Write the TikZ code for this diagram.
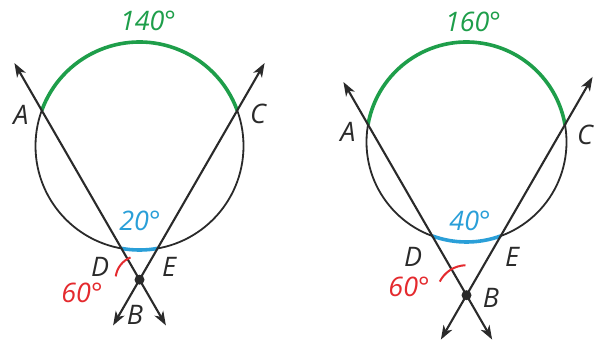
\documentclass[tikz,border=0pt]{standalone}
\usepackage{fontspec}
\setmainfont{Open Sans}
\usetikzlibrary{calc,arrows.meta}
\definecolor{arcgreen}{HTML}{1E9E4A}
\definecolor{arcblue}{HTML}{2A9FD8}
\definecolor{markred}{HTML}{E42A2E}
\definecolor{linegray}{HTML}{2A2A2A}
\tikzset{
  secant/.style={draw=linegray, line width=2.1bp, {Stealth[length=14bp,width=10bp,inset=4bp]}-{Stealth[length=14bp,width=10bp,inset=4bp]}},
  circ/.style={draw=linegray, line width=1.8bp},
  bigarc/.style={draw=arcgreen, line width=3.6bp},
  smallarc/.style={draw=arcblue, line width=3.6bp},
  redmark/.style={draw=markred, line width=2bp},
  lbl/.style={font=\fontsize{27}{32}\selectfont\itshape, text=linegray, inner sep=0pt},
  glbl/.style={lbl, text=arcgreen},
  blbl/.style={lbl, text=arcblue},
  rlbl/.style={lbl, text=markred},
  dot/.style={circle, fill=linegray, inner sep=0pt, minimum size=10bp}
}
\begin{document}
\begin{tikzpicture}[x=1bp,y=1bp]
\useasboundingbox (0,0) rectangle (596,341);
% ---------- left figure ----------
\coordinate (O1) at (139.5,195);
\coordinate (A1) at ($(O1)+(160:104)$);
\coordinate (C1) at ($(O1)+(20:104)$);
\coordinate (D1) at ($(O1)+(260:104)$);
\coordinate (E1) at ($(O1)+(280:104)$);
\coordinate (B1) at ($(O1)+(0,-133.7)$);
\coordinate (A1t) at ($(B1)!1.28!(A1)$);
\coordinate (A1b) at ($(B1)!-0.27!(A1)$);
\coordinate (C1t) at ($(B1)!1.28!(C1)$);
\coordinate (C1b) at ($(B1)!-0.27!(C1)$);
\draw[circ] (O1) circle[radius=104];
\draw[bigarc] (A1) arc[start angle=160, end angle=20, radius=104];
\draw[smallarc] (D1) arc[start angle=260, end angle=280, radius=104];
\draw[secant] (A1b) -- (A1t);
\draw[secant] (C1b) -- (C1t);
\draw[redmark] ($(B1)+(172:24)$) arc[start angle=172, end angle=112, radius=24];
\node[dot] (B1d) at (B1) {};
\node[glbl] (l140) at (148,320) {140°};
\node[lbl] (lA1) at (21,226) {A};
\node[lbl] (lC1) at (258,227) {C};
\node[blbl] (l20) at (140,120) {20°};
\node[lbl] (lD1) at (100,74) {D};
\node[lbl] (lE1) at (169,74) {E};
\node[rlbl] (l60a) at (82,48) {60°};
\node[lbl] (lB1) at (135,26) {B};
% ---------- right figure ----------
\coordinate (O2) at (466.5,199);
\coordinate (A2) at ($(O2)+(170:100)$);
\coordinate (C2) at ($(O2)+(10:100)$);
\coordinate (D2) at ($(O2)+(250:100)$);
\coordinate (E2) at ($(O2)+(290:100)$);
\coordinate (B2) at ($(O2)+(0,-153.2)$);
\coordinate (A2t) at ($(B2)!1.25!(A2)$);
\coordinate (A2b) at ($(B2)!-0.26!(A2)$);
\coordinate (C2t) at ($(B2)!1.28!(C2)$);
\coordinate (C2b) at ($(B2)!-0.26!(C2)$);
\draw[circ] (O2) circle[radius=100];
\draw[bigarc] (A2) arc[start angle=170, end angle=10, radius=100];
\draw[smallarc] (D2) arc[start angle=250, end angle=290, radius=100];
\draw[secant] (A2b) -- (A2t);
\draw[secant] (C2b) -- (C2t);
\draw[redmark] ($(B2)+(153:30)$) arc[start angle=153, end angle=92, radius=30];
\node[dot] (B2d) at (B2) {};
\node[glbl] (l160) at (473,319) {160°};
\node[lbl] (lA2) at (348,209) {A};
\node[lbl] (lC2) at (585,206) {C};
\node[blbl] (l40) at (470,120) {40°};
\node[lbl] (lD2) at (413,84) {D};
\node[lbl] (lE2) at (512,84) {E};
\node[rlbl] (l60b) at (409,54) {60°};
\node[lbl] (lB2) at (491,43) {B};
\end{tikzpicture}
\end{document}
